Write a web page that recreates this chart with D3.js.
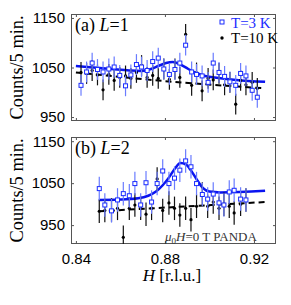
<!DOCTYPE html>
<html>
<head>
<meta charset="utf-8">
<script src="https://cdn.jsdelivr.net/npm/d3@7"></script>
<style>
    body { margin: 0; background: #fff; }
    text { font-family: "Liberation Serif", "DejaVu Serif", serif; }
    .tick text { font-family: "Liberation Sans", Arial, sans-serif; font-size: 15px; fill: #000; }
</style>
</head>
<body>
<script>

// panel (a), L=1
var hA = [0.8423, 0.8448, 0.8473, 0.8497, 0.8522, 0.8548, 0.8572, 0.8597, 0.8623, 0.8647, 0.8672,
          0.8695, 0.8720, 0.8745, 0.8770, 0.8795, 0.8820, 0.8845, 0.8867, 0.8893, 0.8920, 0.8942,
          0.8967, 0.8994, 0.9017, 0.9043, 0.9068, 0.9092, 0.9118, 0.9140, 0.9164, 0.9192, 0.9215];
var blueA = [1014, 1041, 1059, 1046, 1041, 1047, 1051, 1034, 1013, 1035, 1056,
             1051, 1044, 1062, 1069, 1047, 1036, 1046, 1059, 1095, 1041, 1036,
             1033, 1020, 1059, 1040, 1032, 1021, 1014, 1038, 1033, 1004, 990];
var blackA = [1040, 1038, 1044, 1035, 1005, 1036, 1024, 1030, 1033, 1028, 1040,
              1054, 1030, 1034, 1028, 1047, 1026, 1047, 1030, 1117, 1014, 1039,
              1003, 1028, 1025, 1038, 1015, 1020, 976, 1024, 1015, 1020, 1008];
var errA = 21;
var fitBlueA = [[0.840, 1053], [0.848, 1050], [0.856, 1047], [0.864, 1044], [0.869, 1043],
                [0.873, 1046], [0.877, 1053], [0.8805, 1059], [0.8835, 1061], [0.887, 1056],
                [0.8905, 1047], [0.894, 1039], [0.898, 1033], [0.904, 1029], [0.912, 1025], [0.925, 1021]];
var fitBlackA = [[0.840, 1040], [0.884, 1021], [0.925, 1008]];

// panel (b), L=2
var hB = [0.8505, 0.8530, 0.8560, 0.8587, 0.8613, 0.8640, 0.8665, 0.8691, 0.8715, 0.8740,
          0.8765, 0.8790, 0.8818, 0.8843, 0.8867, 0.8893, 0.8917, 0.8942, 0.8968, 0.8992,
          0.9017, 0.9043, 0.9065, 0.9089, 0.9111, 0.9140, 0.9164];
var blueB = [1037, 998, 984, 1010, 1025, 1020, 1049, 998, 1051, 1005,
             1049, 1079, 1049, 1062, 1081, 1103, 1089, 1049, 1023, 1012,
             1024, 1003, 998, 1029, 1033, 1012, 1010];
var blackB = [983, 985, 986, 990, 921, 990, 998, 990, 976, 990,
              1060, 985, 1003, 990, 974, 990, 963, 995, 1024, 995,
              1005, 990, 1000, 995, 979, 1000, 1010];
var errB = 28;
var fitBlueB = [[0.8503, 1010], [0.860, 1011], [0.868, 1014], [0.8725, 1020], [0.876, 1030],
                [0.879, 1045], [0.882, 1065], [0.8845, 1085], [0.887, 1098], [0.8895, 1094],
                [0.892, 1078], [0.8945, 1057], [0.897, 1039], [0.900, 1030], [0.905, 1028], [0.925, 1032]];
var fitBlackB = [[0.8503, 983], [0.925, 1005]];

var xTicks = [0.84, 0.88, 0.92];
var yTicks = [950, 1050, 1150];

var W = 291, H = 305;
var left = 71, right = 276;

var svg = d3.select("body")
    .append("svg")
        .attr("width", W)
        .attr("height", H);

var x = d3.scaleLinear().domain([0.8378, 0.9299]).range([left, right]);

function panel(id, top, bottom, domain, h, blue, black, err, fitBlue, fitBlack, label, num, showX) {

    var y = d3.scaleLinear().domain(domain).range([bottom, top]);
    var g = svg.append("g");

    g.append("clipPath")
        .attr("id", "clip" + id)
        .append("rect")
            .attr("x", left).attr("y", top)
            .attr("width", right - left).attr("height", bottom - top);

    // axes, ticks pointing inward
    g.append("g")
        .attr("transform", "translate(" + left + ",0)")
        .call(d3.axisLeft(y).tickValues(yTicks).tickSize(-3).tickPadding(6).tickFormat(d3.format("d")));
    g.append("g")
        .attr("transform", "translate(" + right + ",0)")
        .call(d3.axisRight(y).tickValues(yTicks).tickSize(-3).tickFormat(""));
    g.append("g")
        .attr("transform", "translate(0," + top + ")")
        .call(d3.axisTop(x).tickValues(xTicks).tickSize(-3).tickFormat(""));
    g.append("g")
        .attr("transform", "translate(0," + bottom + ")")
        .call(d3.axisBottom(x).tickValues(xTicks).tickSize(-3).tickPadding(9)
            .tickFormat(showX ? d3.format(".2f") : ""));
    g.selectAll(".domain").remove();
    g.selectAll(".tick line").attr("stroke", "#555");

    g.append("rect")
        .attr("x", left + 0.5).attr("y", top + 0.5)
        .attr("width", right - left - 1).attr("height", bottom - top - 1)
        .attr("fill", "none")
        .attr("stroke", "#555")
        .attr("stroke-width", 1);

    var plot = g.append("g").attr("clip-path", "url(#clip" + id + ")");

    var line = d3.line()
        .x(function (d) { return x(d[0]); })
        .y(function (d) { return y(d[1]); })
        .curve(d3.curveMonotoneX);

    plot.append("path")
        .attr("d", line(fitBlack))
        .attr("fill", "none")
        .attr("stroke", "#000")
        .attr("stroke-width", 2)
        .attr("stroke-dasharray", "6,4");

    plot.append("path")
        .attr("d", line(fitBlue))
        .attr("fill", "none")
        .attr("stroke", "#0a14f0")
        .attr("stroke-width", 2.5);

    // T=10 K
    plot.selectAll(".ebk")
        .data(black)
        .enter().append("line")
            .attr("x1", function (d, i) { return x(h[i]); })
            .attr("x2", function (d, i) { return x(h[i]); })
            .attr("y1", function (d) { return y(d - err); })
            .attr("y2", function (d) { return y(d + err); })
            .attr("stroke", "#111")
            .attr("stroke-width", 1.2);
    plot.selectAll(".dk")
        .data(black)
        .enter().append("circle")
            .attr("cx", function (d, i) { return x(h[i]); })
            .attr("cy", function (d) { return y(d); })
            .attr("r", 1.6)
            .attr("fill", "#000");

    // T=3 K
    plot.selectAll(".ebb")
        .data(blue)
        .enter().append("line")
            .attr("x1", function (d, i) { return x(h[i]); })
            .attr("x2", function (d, i) { return x(h[i]); })
            .attr("y1", function (d) { return y(d - err); })
            .attr("y2", function (d) { return y(d + err); })
            .attr("stroke", "#6a7cff")
            .attr("stroke-width", 1.2);
    plot.selectAll(".sq")
        .data(blue)
        .enter().append("rect")
            .attr("x", function (d, i) { return x(h[i]) - 2; })
            .attr("y", function (d) { return y(d) - 2; })
            .attr("width", 4)
            .attr("height", 4)
            .attr("fill", "#fff")
            .attr("stroke", "#1a2cff")
            .attr("stroke-width", 1);

    var t = g.append("text")
        .attr("x", 75)
        .attr("y", top + 17)
        .style("font-size", "18px");
    t.append("tspan").text("(" + label + ") ");
    t.append("tspan").style("font-style", "italic").text("L");
    t.append("tspan").text("=" + num);

    g.append("text")
        .attr("transform", "translate(23," + ((top + bottom) / 2) + ") rotate(-90)")
        .attr("text-anchor", "middle")
        .attr("textLength", 104)
        .attr("lengthAdjust", "spacingAndGlyphs")
        .style("font-size", "18px")
        .text("Counts/5 min.");

    return g;
}

panel("a", 14, 121, [942, 1158], hA, blueA, blackA, errA, fitBlueA, fitBlackA, "a", 1, false);
var gb = panel("b", 137, 244, [905, 1160], hB, blueB, blackB, errB, fitBlueB, fitBlackB, "b", 2, true);

// legend
var legend = svg.append("g");
legend.append("rect")
    .attr("x", 220).attr("y", 20)
    .attr("width", 4).attr("height", 4)
    .attr("fill", "#fff").attr("stroke", "#1a2cff").attr("stroke-width", 1);
legend.append("text")
    .attr("x", 231).attr("y", 28)
    .style("font-size", "15px")
    .style("fill", "#1a2cff")
    .text("T=3 K");
legend.append("circle")
    .attr("cx", 222).attr("cy", 38).attr("r", 1.7)
    .attr("fill", "#000");
legend.append("text")
    .attr("x", 231).attr("y", 43)
    .style("font-size", "15px")
    .text("T=10 K");

// field / instrument note
var note = gb.append("text")
    .attr("x", 165).attr("y", 241)
    .style("font-size", "13px")
    .style("fill", "#333");
note.append("tspan").style("font-style", "italic").text("μ");
note.append("tspan").attr("dy", 3).style("font-size", "9px").text("0");
note.append("tspan").attr("dy", -3).style("font-style", "italic").text("H");
note.append("tspan").text("=0 T PANDA");

// x label
var xl = svg.append("text")
    .attr("x", 172).attr("y", 281)
    .attr("text-anchor", "middle")
    .style("font-size", "17px");
xl.append("tspan").style("font-style", "italic").text("H");
xl.append("tspan").text(" [r.l.u.]");

</script>
</body>
</html>
